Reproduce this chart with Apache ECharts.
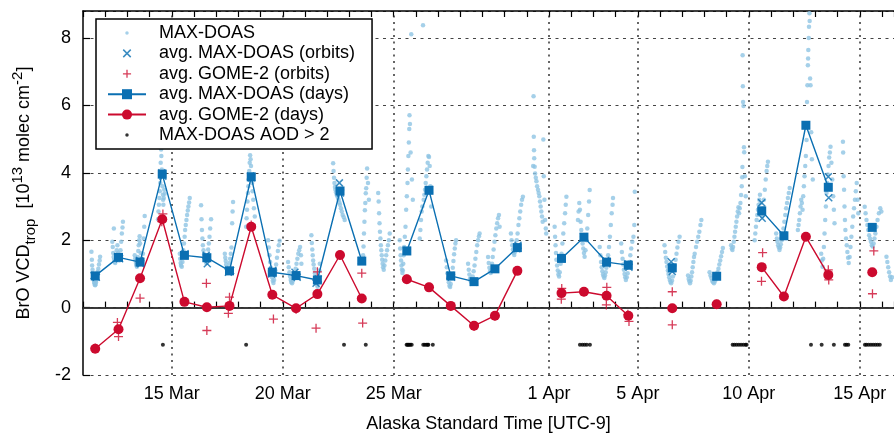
<!DOCTYPE html>
<html>
<head>
<meta charset="utf-8">
<script src="https://cdn.jsdelivr.net/npm/echarts@6/dist/echarts.min.js"></script>
<style>
  html, body { margin: 0; padding: 0; background: #fff; }
  #chart { width: 894px; height: 434px; }
</style>
</head>
<body>
<div id="chart"></div>
<script>
// time axis is "day of March" (1 Apr = 32), Alaska Standard Time
const tickDays = [15, 20, 25, 32, 36, 41, 46];
const tickLabels = ['15 Mar', '20 Mar', '25 Mar', '1 Apr', '5 Apr', '10 Apr', '15 Apr'];

// single MAX-DOAS retrievals [time, VCD]
const maxDoasPoints = [
  [11.38,1.66],[11.40,1.42],[11.41,1.25],[11.43,1.12],[11.44,1.02],[11.46,0.95],[11.47,0.88],[11.49,0.82],[11.50,0.76],[11.52,0.72],[11.53,0.68],[11.55,0.66],[11.57,0.70],[11.58,0.75],[11.60,0.82],[11.62,0.90],[11.64,0.98],[11.66,1.06],[11.69,1.15],[11.72,1.28],[11.75,1.40],[11.77,1.51],
  [12.32,1.95],[12.34,1.80],[12.36,1.62],[12.38,1.50],[12.39,2.35],[12.40,1.42],[12.42,1.36],[12.45,1.32],[12.48,1.40],[12.50,1.55],[12.52,1.70],[12.55,1.85],[12.58,1.62],[12.60,1.48],[12.63,1.40],[12.66,1.52],[12.69,1.70],[12.72,1.95],[12.75,2.20],[12.78,2.38],[12.80,2.55],
  [13.33,1.55],[13.35,1.45],[13.37,1.38],[13.39,1.30],[13.41,1.25],[13.43,1.21],[13.45,1.35],[13.47,1.50],[13.49,1.68],[13.51,1.85],[13.53,2.00],[13.55,2.12],[13.57,1.90],[13.60,1.62],[13.63,1.45],[13.66,1.32],[13.70,1.60],[13.73,2.05],[13.76,2.40],[13.78,2.72],
  [14.38,2.62],[14.40,2.85],[14.42,3.05],[14.44,3.25],[14.46,3.45],[14.48,3.70],[14.50,4.30],[14.52,4.69],[14.53,4.50],[14.55,4.10],[14.57,3.90],[14.58,3.60],[14.60,3.35],[14.61,3.20],[14.62,3.05],[14.64,3.25],[14.66,3.50],[14.68,3.38],
  [15.36,1.60],[15.38,1.45],[15.40,1.32],[15.42,1.25],[15.45,1.21],[15.48,1.35],[15.50,1.50],[15.52,1.70],[15.55,1.90],[15.58,2.10],[15.60,2.30],[15.63,2.45],[15.66,2.60],[15.69,2.75],[15.72,2.88],[15.75,3.00],[15.78,3.12],[15.81,3.25],
  [16.32,3.04],[16.34,2.62],[16.36,2.30],[16.38,2.05],[16.40,1.85],[16.43,1.70],[16.46,1.58],[16.49,1.45],[16.52,1.38],[16.55,1.32],[16.58,1.40],[16.61,1.55],[16.64,1.72],[16.67,1.90],[16.70,2.10],[16.73,2.35],[16.77,2.62],
  [17.39,1.60],[17.41,1.48],[17.43,1.38],[17.45,1.28],[17.47,1.20],[17.49,1.12],[17.51,1.06],[17.53,1.03],[17.56,1.10],[17.58,1.20],[17.60,1.32],[17.63,1.45],[17.66,1.60],[17.69,1.78],[17.72,2.50],[17.74,2.85],[17.76,3.13],
  [18.35,2.40],[18.37,2.65],[18.39,2.90],[18.41,3.15],[18.43,3.40],[18.45,3.60],[18.47,3.80],[18.49,4.05],[18.51,4.30],[18.53,4.52],[18.55,4.40],[18.57,4.20],[18.60,3.95],[18.62,3.70],[18.64,3.45],[18.67,3.20],[18.70,2.95],[18.74,2.70],
  [19.34,2.00],[19.37,1.78],[19.40,1.55],[19.43,1.35],[19.46,1.18],[19.49,1.02],[19.52,0.90],[19.55,0.80],[19.58,0.73],[19.61,0.82],[19.64,0.95],[19.67,1.10],[19.70,1.28],[19.74,1.48],[19.78,1.68],[19.82,1.85],[19.86,1.98],
  [20.24,1.35],[20.27,1.20],[20.30,1.05],[20.33,0.92],[20.36,0.82],[20.39,0.75],[20.42,0.72],[20.46,0.80],[20.50,0.90],[20.54,1.02],[20.58,1.15],[20.62,1.30],[20.66,1.45],[20.70,1.60],[20.74,1.70],[20.78,1.80],[20.82,1.55],[20.84,1.30],
  [21.29,2.15],[21.31,1.92],[21.33,1.72],[21.35,1.55],[21.37,1.40],[21.39,1.28],[21.42,1.15],[21.45,1.02],[21.48,0.90],[21.51,0.78],[21.54,0.68],[21.57,0.62],[21.60,0.75],[21.63,0.92],[21.65,1.10],[21.67,1.30],
  [22.27,4.28],[22.29,4.05],[22.31,3.85],[22.33,3.70],[22.35,3.58],[22.37,3.50],[22.40,3.42],[22.43,3.35],[22.46,3.30],[22.49,3.25],[22.52,3.20],[22.55,3.12],[22.58,3.05],[22.62,2.95],[22.66,2.85],[22.70,2.75],[22.75,2.68],[22.79,2.60],
  [23.62,1.55],[23.64,1.81],[23.66,2.20],[23.68,2.55],[23.70,2.89],[23.72,3.10],[23.74,3.39],[23.76,3.54],[23.78,3.85],[23.80,4.13],[23.84,3.70],[23.88,3.20],
  [24.30,3.40],[24.32,3.15],[24.34,2.80],[24.36,2.50],[24.38,2.25],[24.40,2.05],[24.42,1.85],[24.44,1.70],[24.46,1.55],[24.48,1.42],[24.50,1.30],[24.52,1.20],[24.55,1.12],[24.58,1.25],[24.62,1.40],[24.66,1.55],[24.70,1.70],[24.74,1.85],[24.78,2.00],[24.82,2.20],
  [25.27,2.00],[25.29,1.75],[25.31,1.55],[25.33,1.40],[25.35,1.25],[25.37,1.12],[25.39,1.03],[25.41,1.10],[25.43,1.30],[25.45,1.55],[25.47,1.80],[25.50,2.10],[25.53,2.40],[25.56,2.90],[25.59,3.30],[25.62,3.70],[25.64,4.10],[25.66,4.50],[25.68,4.90],[25.70,5.30],[25.71,5.71],[25.73,5.45],[25.76,4.60],[25.79,8.11],[25.82,3.80],[25.86,3.20],
  [26.17,2.05],[26.20,2.30],[26.23,2.60],[26.26,2.85],[26.29,3.00],[26.32,8.38],[26.35,3.20],[26.38,3.35],[26.41,3.50],[26.44,3.70],[26.47,3.90],[26.50,4.10],[26.53,4.30],[26.56,4.50],[26.59,4.47],[26.62,4.20],[26.65,3.60],[26.69,3.00],
  [27.36,1.40],[27.39,1.20],[27.42,1.02],[27.45,0.88],[27.48,0.75],[27.51,0.65],[27.54,0.61],[27.57,0.70],[27.60,0.85],[27.63,1.00],[27.66,1.18],[27.69,1.38],[27.72,1.58],[27.75,1.75],[27.78,1.90],[27.81,2.00],
  [28.35,1.30],[28.38,1.12],[28.41,0.98],[28.44,0.86],[28.47,0.78],[28.50,0.73],[28.53,0.80],[28.56,0.92],[28.60,1.08],[28.64,1.25],[28.68,1.45],[28.72,1.65],[28.76,1.85],[28.80,2.00],[28.84,2.12],[28.87,2.20],
  [29.25,1.50],[29.28,1.32],[29.31,1.18],[29.34,1.08],[29.37,1.03],[29.40,1.12],[29.43,1.30],[29.46,1.50],[29.50,1.72],[29.54,1.95],[29.58,2.15],[29.62,2.35],[29.66,2.50],[29.70,2.65],[29.74,2.75],[29.77,2.40],
  [30.28,2.20],[30.31,2.00],[30.34,1.85],[30.37,1.72],[30.40,1.62],[30.43,1.56],[30.46,1.65],[30.50,1.80],[30.54,2.00],[30.58,2.20],[30.62,2.45],[30.66,2.65],[30.70,2.85],[30.74,3.05],[30.78,3.20],[30.82,3.29],
  [31.28,4.20],[31.30,6.27],[31.31,5.07],[31.32,4.67],[31.33,4.43],[31.35,4.18],[31.37,3.98],[31.40,3.85],[31.43,3.75],[31.46,3.60],[31.50,3.50],[31.53,3.40],[31.56,3.30],[31.59,3.15],[31.62,3.00],[31.65,2.85],[31.68,2.70],[31.71,2.55],[31.74,4.99],[31.76,3.90],[31.79,3.20],[31.82,2.60],[31.85,2.35],[31.87,2.20],
  [32.25,2.40],[32.27,2.10],[32.29,1.85],[32.31,1.62],[32.33,1.42],[32.36,1.25],[32.39,1.10],[32.42,0.98],[32.45,0.92],[32.48,1.05],[32.52,1.30],[32.56,1.60],[32.60,1.90],[32.64,2.20],[32.68,2.50],[32.72,2.80],[32.75,3.05],[32.78,3.29],
  [33.30,2.60],[33.33,2.85],[33.36,3.10],[33.39,2.90],[33.42,2.55],[33.45,2.30],[33.48,2.10],[33.51,1.90],[33.54,1.75],[33.57,1.62],[33.60,1.51],[33.64,1.70],[33.68,2.00],[33.72,2.35],[33.76,2.75],[33.80,3.15],[33.83,3.49],
  [34.28,1.80],[34.31,1.55],[34.34,1.35],[34.37,1.20],[34.40,1.08],[34.43,0.98],[34.46,0.92],[34.49,0.88],[34.52,0.95],[34.55,1.05],[34.58,1.18],[34.62,1.35],[34.66,1.55],[34.70,1.80],[34.74,2.10],[34.78,2.45],[34.82,2.80],[34.86,3.05],[34.88,3.25],
  [35.25,1.90],[35.28,1.65],[35.31,1.45],[35.34,1.28],[35.37,1.12],[35.40,1.00],[35.43,0.90],[35.46,0.82],[35.50,0.90],[35.54,1.02],[35.58,1.18],[35.62,1.35],[35.66,1.55],[35.70,1.75],[35.75,1.95],[35.80,2.10],[35.84,2.45],[35.86,3.44],
  [37.20,1.85],[37.23,1.65],[37.26,1.48],[37.29,1.35],[37.32,1.22],[37.35,1.10],[37.38,1.00],[37.41,0.90],[37.44,0.82],[37.47,0.76],[37.50,0.72],[37.54,0.80],[37.58,0.92],[37.62,1.08],[37.66,1.25],[37.70,1.42],[37.74,1.60],[37.78,1.78],[37.83,1.95],[37.88,2.10],
  [38.26,0.95],[38.29,0.85],[38.32,0.78],[38.35,0.72],[38.38,0.80],[38.41,0.92],[38.44,1.05],[38.47,1.20],[38.50,1.35],[38.53,1.50],[38.56,1.60],[38.62,1.80],[38.67,1.95],[38.72,2.10],[38.77,2.25],[38.82,2.45],[38.86,2.60],
  [39.23,1.05],[39.27,0.95],[39.31,0.88],[39.35,0.80],[39.39,0.75],[39.43,0.72],[39.47,0.78],[39.51,0.85],[39.55,0.95],[39.59,1.05],[39.63,1.15],[39.67,1.28],[39.71,1.40],[39.75,1.52],[39.79,1.65],[39.83,1.77],
  [40.20,1.85],[40.23,1.75],[40.26,1.71],[40.29,1.80],[40.32,1.95],[40.35,2.10],[40.38,2.25],[40.41,2.40],[40.44,2.55],[40.47,2.70],[40.50,2.85],[40.53,2.98],[40.56,2.80],[40.59,2.95],[40.62,3.10],[40.65,3.34],[40.68,3.60],[40.70,3.87],[40.71,4.17],[40.72,7.49],[40.73,6.57],[40.74,6.10],[40.76,5.98],[40.78,4.76],[40.79,4.61],[40.82,3.90],[40.86,3.30],
  [41.26,2.00],[41.29,2.20],[41.32,2.40],[41.35,2.60],[41.38,2.75],[41.41,2.90],[41.44,3.05],[41.47,3.20],[41.50,3.35],[41.53,3.10],[41.56,2.85],[41.60,2.70],[41.64,2.95],[41.68,3.20],[41.72,3.50],[41.76,3.80],[41.80,4.05],[41.83,4.20],[41.86,4.33],
  [42.23,2.20],[42.26,2.05],[42.29,1.95],[42.32,1.85],[42.35,1.78],[42.38,1.71],[42.41,1.78],[42.44,1.88],[42.48,2.00],[42.52,2.15],[42.56,2.35],[42.60,2.55],[42.64,2.75],[42.68,2.95],[42.72,3.10],[42.76,3.25],[42.80,3.40],[42.84,3.55],
  [43.21,2.30],[43.24,2.45],[43.27,2.60],[43.30,2.80],[43.33,3.00],[43.36,3.20],[43.39,3.10],[43.42,2.90],[43.45,3.30],[43.48,3.60],[43.51,3.90],[43.54,4.20],[43.57,4.50],[43.60,4.97],[43.62,6.10],[43.64,6.60],[43.66,7.19],[43.67,7.39],[43.68,7.64],[43.70,8.00],[43.71,8.33],[43.73,8.73],[43.74,8.50],[43.76,6.80],[43.78,6.60],[43.81,5.20],[43.84,4.40],[43.88,3.80],
  [44.26,1.60],[44.29,1.40],[44.32,1.21],[44.35,1.45],[44.38,1.80],[44.41,2.20],[44.44,2.60],[44.47,3.00],[44.50,3.40],[44.53,3.70],[44.56,3.95],[44.59,4.20],[44.62,4.45],[44.65,4.60],[44.68,4.77],[44.72,4.30],[44.76,3.80],[44.80,3.30],[44.83,2.90],[44.86,2.50],
  [45.24,4.92],[45.25,4.60],[45.27,3.90],[45.29,3.50],[45.31,3.00],[45.33,2.60],[45.35,2.30],[45.38,2.05],[45.41,1.85],[45.44,1.65],[45.47,1.48],[45.50,1.32],[45.54,1.50],[45.58,1.80],[45.62,2.10],[45.66,2.40],[45.70,2.70],[45.74,2.95],[45.78,3.20],[45.82,3.45],[45.86,3.70],[45.90,3.20],[45.93,2.80],
  [46.22,2.99],[46.26,2.80],[46.30,2.60],[46.34,2.45],[46.38,2.30],[46.42,2.15],[46.46,2.05],[46.50,1.95],[46.54,1.85],[46.58,1.81],[46.62,1.90],[46.66,2.05],[46.70,2.20],[46.75,2.40],[46.80,2.60],[46.86,2.80],[46.92,2.95],[46.97,2.85],
  [47.20,1.51],[47.24,1.35],[47.28,1.20],[47.32,1.05],[47.36,0.92],[47.40,0.82],[47.45,0.90]
];

// averages over satellite overpasses [time, VCD]
const maxDoasOrbits = [
  [11.50,0.95],[11.60,0.90],[12.55,1.50],[12.65,1.45],[13.55,1.40],[13.60,1.30],[14.55,4.00],[14.60,3.90],
  [15.55,1.55],[15.60,1.60],[16.55,1.55],[16.60,1.30],[17.55,1.05],[17.65,1.10],[18.55,3.90],[18.60,3.85],
  [19.50,1.00],[19.55,1.10],[20.55,1.05],[20.65,0.90],[21.50,0.72],[21.60,0.85],[22.55,3.70],[22.60,3.40],
  [23.55,1.40],[25.60,1.70],[26.60,3.50],[27.55,0.95],[27.60,0.90],[28.60,0.75],[29.55,1.15],[30.55,1.75],
  [30.60,1.85],[32.55,1.45],[33.55,2.10],[34.55,1.40],[34.60,1.30],[35.55,1.30],[35.60,1.20],[37.50,1.36],
  [37.55,1.07],[39.55,0.93],[41.58,3.11],[41.60,2.65],[42.55,2.15],[43.57,5.40],[44.58,3.88],[44.60,3.26],[46.55,2.38]
];
const gomeOrbits = [
  [11.55,-1.20],[12.55,-0.44],[12.60,-0.86],[13.57,0.28],[14.60,2.78],[14.55,2.55],[16.56,0.72],[16.58,-0.68],
  [17.60,0.31],[17.55,-0.17],[18.58,2.45],[19.58,-0.34],[20.60,-0.05],[21.56,1.06],[21.50,-0.61],[22.58,1.55],
  [23.56,1.02],[23.60,-0.46],[25.59,0.85],[26.59,0.60],[27.57,0.05],[28.62,-0.55],[29.56,-0.25],[30.57,1.10],
  [32.57,0.57],[32.55,0.25],[33.57,0.47],[34.60,0.60],[34.58,0.08],[35.60,-0.41],[35.55,-0.20],[37.55,0.47],
  [37.55,-0.51],[39.55,0.10],[41.62,1.63],[41.57,0.78],[42.58,0.33],[43.57,2.10],[44.58,1.12],[44.60,0.82],
  [46.63,1.68],[46.57,0.41]
];

// daily averages (null = no data that day)
const dayTime = [11.55, 12.60, 13.57, 14.57, 15.57, 16.58, 17.60, 18.58, 19.53, 20.60, 21.56, 22.58, 23.56, 24.50,
  25.59, 26.59, 27.57, 28.62, 29.56, 30.57, 31.50, 32.56, 33.57, 34.59, 35.57, 36.50, 37.55, 38.50, 39.55, 40.50,
  41.58, 42.58, 43.57, 44.58, 45.50, 46.56];
const maxDoasDays = [0.94, 1.49, 1.35, 3.96, 1.55, 1.48, 1.09, 3.88, 1.05, 0.95, 0.82, 3.46, 1.38, null,
  1.68, 3.48, 0.94, 0.77, 1.15, 1.78, null, 1.46, 2.09, 1.35, 1.26, null, 1.18, null, 0.93, null,
  2.87, 2.13, 5.41, 3.57, null, 2.38];
const gomeDays = [-1.22, -0.64, 0.87, 2.62, 0.17, 0.01, 0.05, 2.40, 0.38, -0.02, 0.40, 1.56, 0.27, null,
  0.84, 0.60, 0.05, -0.54, -0.24, 1.09, null, 0.43, 0.47, 0.35, -0.24, null, -0.02, null, 0.10, null,
  1.20, 0.33, 2.10, 0.97, null, 1.05];

// times flagged with aerosol optical depth > 2, drawn at a fixed marker level
const aodLevel = -1.1;
const aodTime = [14.60, 18.35, 22.76, 23.74, 25.58, 25.62, 25.66, 25.70, 25.75, 25.81,
  26.33, 26.40, 26.47, 26.53, 26.56, 26.76, 33.39, 33.50, 33.60, 33.70, 33.84,
  40.27, 40.35, 40.45, 40.55, 40.65, 40.75, 40.85, 40.90, 43.80, 44.28, 44.83, 45.33, 45.40, 45.48,
  46.23, 46.30, 46.40, 46.50, 46.60, 46.70, 46.80, 46.90];

const FONT = '"Liberation Sans", Arial, sans-serif';
const LIGHT = '#8ec4e4';
const BLUE = '#0a6fb2';
const RED = '#cc0a2e';

const DOT_ICON = 'path://M0,0M20,20M10,7.2A2.8,2.8,0,1,1,9.99,7.2Z';
const X_ICON = 'path://M0,0M20,20M4,4L16,16M16,4L4,16';
const PLUS_ICON = 'path://M0,0M20,20M10,3.5L10,16.5M3.5,10L16.5,10';

const chart = echarts.init(document.getElementById('chart'));

const dayData = (vals) => dayTime.map((t, i) => [t, vals[i] == null ? '-' : vals[i]]);

const option = {
  animation: false,
  textStyle: { fontFamily: FONT, color: '#000' },
  grid: { left: 83, top: 11, right: 0, bottom: 59, containLabel: false, outerBoundsMode: 'none' },
  legend: {
    orient: 'vertical',
    left: 96,
    top: 19,
    padding: [4, 17, 4, 11],
    itemWidth: 38,
    itemHeight: 12.5,
    itemGap: 0.4,
    selectedMode: false,
    backgroundColor: '#fff',
    borderColor: '#000',
    borderWidth: 1.5,
    borderRadius: 0,
    textStyle: { fontFamily: FONT, fontSize: 18, color: '#000', lineHeight: 20, padding: [0, 0, 0, 8] },
    data: [
      { name: 'MAX-DOAS', icon: DOT_ICON, itemStyle: { color: LIGHT } },
      { name: 'avg. MAX-DOAS (orbits)', icon: X_ICON, itemStyle: { color: 'none', borderColor: BLUE, borderWidth: 1.5 } },
      { name: 'avg. GOME-2 (orbits)', icon: PLUS_ICON, itemStyle: { color: 'none', borderColor: RED, borderWidth: 1.3 } },
      { name: 'avg. MAX-DOAS (days)' },
      { name: 'avg. GOME-2 (days)' },
      { name: 'MAX-DOAS AOD > 2', icon: DOT_ICON, itemStyle: { color: '#000' } }
    ]
  },
  xAxis: [
    {
      type: 'value',
      position: 'bottom',
      min: 11,
      max: 47.54,
      interval: 1,
      axisLine: { lineStyle: { color: '#000', width: 1.5 } },
      axisTick: { inside: true, length: 6, lineStyle: { color: '#000', width: 1.2 } },
      axisLabel: {
        fontSize: 18, color: '#000', margin: 10,
        formatter: (v) => {
          const k = tickDays.indexOf(Math.round(v * 100) / 100);
          return k >= 0 ? tickLabels[k] : '';
        }
      },
      splitLine: { show: false },
      name: 'Alaska Standard Time [UTC-9]',
      nameLocation: 'middle',
      nameGap: 40,
      nameTextStyle: { fontSize: 18, color: '#000' }
    },
    {
      type: 'value',
      position: 'top',
      min: 11,
      max: 47.54,
      interval: 1,
      axisLine: { lineStyle: { color: '#000', width: 1.5 } },
      axisTick: { inside: true, length: 6, lineStyle: { color: '#000', width: 1.2 } },
      axisLabel: { show: false },
      splitLine: { show: false }
    }
  ],
  yAxis: {
    type: 'value',
    min: -2,
    max: 8.8,
    interval: 2,
    axisLine: { show: true, lineStyle: { color: '#000', width: 1.5 } },
    axisTick: { show: true, inside: true, length: 7, lineStyle: { color: '#000', width: 1.2 } },
    axisLabel: { fontSize: 18, color: '#000', margin: 12, showMaxLabel: false },
    splitLine: { show: true, lineStyle: { color: '#444', width: 1.2, type: [3, 4.5] } },
    name: 'BrO VCD{sub|trop}  [10{sup|13} molec cm{sup|-2}]',
    nameLocation: 'middle',
    nameRotate: 90,
    nameGap: 45,
    nameTextStyle: {
      fontSize: 18, color: '#000', lineHeight: 28,
      rich: {
        sub: { fontSize: 15, verticalAlign: 'bottom', lineHeight: 15, color: '#000' },
        sup: { fontSize: 15, verticalAlign: 'top', lineHeight: 15, color: '#000' }
      }
    }
  },
  series: [
    {
      name: 'MAX-DOAS',
      type: 'scatter',
      data: maxDoasPoints,
      symbol: 'circle',
      symbolSize: 4.5,
      itemStyle: { color: LIGHT },
      silent: true,
      markLine: {
        silent: true,
        z: 1,
        symbol: ['none', 'none'],
        label: { show: false },
        lineStyle: { color: '#333', width: 1.5, type: [2, 4.5] },
        data: tickDays.map((d) => ({ xAxis: d })).concat([
          { yAxis: 0, lineStyle: { color: '#3a3a3a', width: 1.6, type: 'solid' } }
        ])
      }
    },
    {
      name: 'avg. MAX-DOAS (orbits)',
      type: 'scatter',
      data: maxDoasOrbits,
      symbol: 'path://M0,0L10,10M10,0L0,10',
      symbolSize: 7,
      itemStyle: { color: 'none', borderColor: BLUE, borderWidth: 1.5 },
      silent: true
    },
    {
      name: 'avg. GOME-2 (orbits)',
      type: 'scatter',
      data: gomeOrbits,
      symbol: 'path://M5,0L5,10M0,5L10,5',
      symbolSize: 9,
      itemStyle: { color: 'none', borderColor: RED, borderWidth: 1.3 },
      silent: true
    },
    {
      name: 'avg. MAX-DOAS (days)',
      type: 'line',
      data: dayData(maxDoasDays),
      symbol: 'rect',
      symbolSize: 9,
      showSymbol: true,
      connectNulls: false,
      lineStyle: { color: BLUE, width: 1.4 },
      itemStyle: { color: BLUE },
      silent: true
    },
    {
      name: 'avg. GOME-2 (days)',
      type: 'line',
      data: dayData(gomeDays),
      symbol: 'circle',
      symbolSize: 10,
      showSymbol: true,
      connectNulls: false,
      lineStyle: { color: RED, width: 1.4 },
      itemStyle: { color: RED },
      silent: true
    },
    {
      name: 'MAX-DOAS AOD > 2',
      type: 'scatter',
      data: aodTime.map((t) => [t, aodLevel]),
      symbol: 'circle',
      symbolSize: 4,
      itemStyle: { color: '#000' },
      silent: true
    }
  ]
};

chart.setOption(option);
</script>
</body>
</html>
